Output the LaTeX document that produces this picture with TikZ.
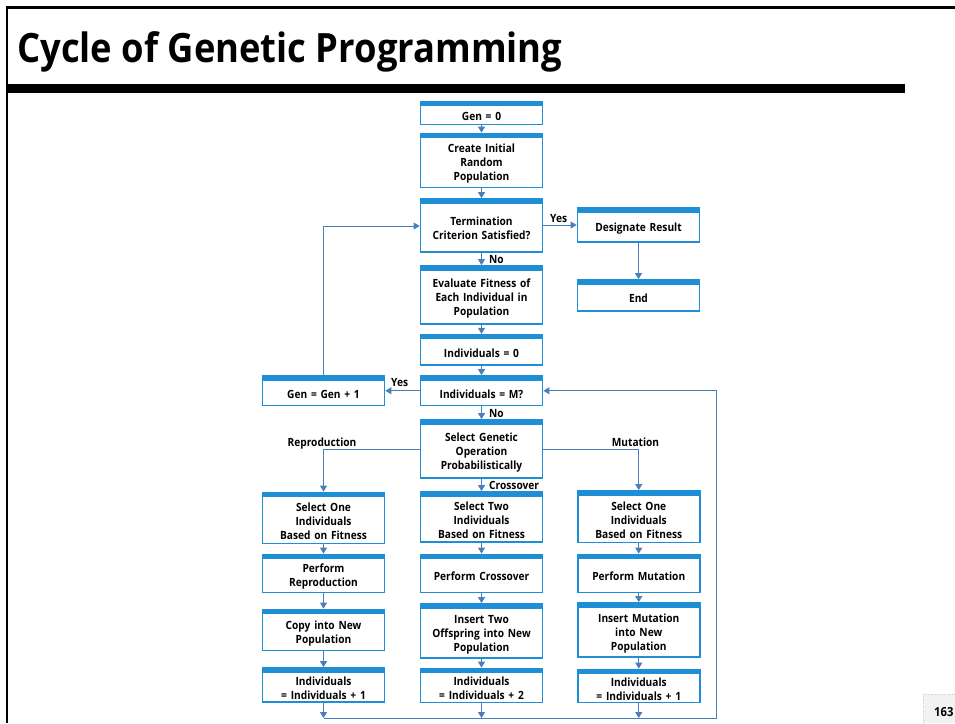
\documentclass[tikz,border=0pt]{standalone}
\usepackage{fontspec}
\setmainfont{Open Sans}[FakeStretch=0.9]
\usetikzlibrary{arrows.meta,calc}
\definecolor{boxblue}{HTML}{1E8FD5}
\definecolor{linkblue}{HTML}{4A7EBB}
\definecolor{pagegray}{HTML}{F2F2F2}
\tikzset{
  gpbox/.style={draw=boxblue, line width=1.8pt, fill=white, inner sep=1pt,
    minimum width=122pt, text width=118pt, align=center,
    font=\fontsize{11.3}{14}\selectfont\bfseries,
    execute at begin node={\rule{0pt}{15pt}},
    path picture={\fill[boxblue] (path picture bounding box.north west)
      rectangle ([yshift=-4.5pt]path picture bounding box.north east);}},
  link/.style={draw=linkblue, line width=1pt, -{Triangle[width=7pt,length=6pt]}},
  plain/.style={draw=linkblue, line width=1pt},
  lbl/.style={font=\fontsize{11.3}{13}\selectfont\bfseries, inner sep=0pt}
}
\begin{document}
\begin{tikzpicture}[x=1pt,y=-1pt]
\useasboundingbox (0,0) rectangle (955,723);
\fill[white] (0,0) rectangle (955,723);

% slide frame, title and rule
\draw[line width=2.2pt] (7,723) -- (7,7.5) -- (955,7.5);
\fill[black] (7,84) rectangle (905,92.5);
\node[anchor=base west, inner sep=0pt, font=\fontsize{40.4}{42}\selectfont\bfseries] (title) at (17,62) {Cycle of Genetic Programming};

% page number
\fill[pagegray] (923,694) rectangle (955,723);
\draw[gray!40, dotted] (923,723) -- (923,694) -- (955,694);
\node[anchor=base west, inner sep=0pt, font=\fontsize{12.5}{14}\selectfont\bfseries] (pnum) at (934,716) {163};

% main column
\node[gpbox, minimum height=23pt] (gen0) at (481.5,113) {Gen = 0};
\node[gpbox, minimum height=54pt] (create) at (481.5,160.5) {Create Initial\\Random\\Population};
\node[gpbox, minimum height=53pt] (term) at (481.5,225.5) {Termination\\Criterion Satisfied?};
\node[gpbox, minimum height=34pt] (result) at (638.5,225) {Designate Result};
\node[gpbox, minimum height=31pt] (end) at (638.5,295.5) {End};
\node[gpbox, minimum height=58pt] (eval) at (481.5,295) {Evaluate Fitness of\\Each Individual in\\Population};
\node[gpbox, minimum height=30pt] (ind0) at (481.5,349.75) {Individuals = 0};
\node[gpbox, minimum height=29.5pt] (indM) at (481.5,390.75) {Individuals = M?};
\node[gpbox, minimum height=29.5pt] (gennext) at (323.5,390.75) {Gen = Gen + 1};
\node[gpbox, minimum height=58pt] (select) at (481.5,449) {Select Genetic\\Operation\\Probabilistically};

% reproduction branch
\node[gpbox, minimum height=51pt] (l1) at (323.5,518) {Select One\\Individuals\\Based on Fitness};
\node[gpbox, minimum height=38pt] (l2) at (323.5,573.5) {Perform\\Reproduction};
\node[gpbox, minimum height=41pt] (l3) at (323.5,630) {Copy into New\\Population};
\node[gpbox, minimum height=34pt] (l4) at (323.5,685) {Individuals\\= Individuals + 1};

% crossover branch
\node[gpbox, minimum height=50pt] (m1) at (481.5,517) {Select Two\\Individuals\\Based on Fitness};
\node[gpbox, minimum height=38pt] (m2) at (481.5,573.5) {Perform Crossover};
\node[gpbox, minimum height=54pt] (m3) at (481.5,631) {Insert Two\\Offspring into New\\Population};
\node[gpbox, minimum height=34pt] (m4) at (481.5,685.5) {Individuals\\= Individuals + 2};

% mutation branch
\node[gpbox, minimum height=51.5pt] (r1) at (638.75,516.75) {Select One\\Individuals\\Based on Fitness};
\node[gpbox, minimum height=38pt] (r2) at (638.75,573.5) {Perform Mutation};
\node[gpbox, minimum height=54pt] (r3) at (638.75,630) {Insert Mutation\\into New\\Population};
\node[gpbox, minimum height=33pt] (r4) at (638.75,686) {Individuals\\= Individuals + 1};

% collecting line and loop-back points
\coordinate (joinL) at (323.5,718);
\coordinate (joinM) at (481.5,718);
\coordinate (joinR) at (638.75,718);
\coordinate (loopC) at (716.5,718);
\coordinate (loopT) at (716.5,390.75);
\coordinate (genUp) at (323.5,226);
\coordinate (repC) at (323.5,449);
\coordinate (mutC) at (638.75,449);

% connectors
\draw[link] (gen0) -- (create);
\draw[link] (create) -- (term);
\draw[link] (term.east |- result.west) -- (result.west);
\draw[link] (result) -- (end);
\draw[link] (term) -- (eval);
\draw[link] (eval) -- (ind0);
\draw[link] (ind0) -- (indM);
\draw[link] (indM) -- (gennext);
\draw[link] (gennext.north) -- (genUp) -- (term.west |- genUp);
\draw[link] (indM) -- (select);
\draw[link] (select.west |- repC) -- (repC) -- (l1.north);
\draw[link] (select.east |- mutC) -- (mutC) -- (r1.north);
\draw[link] (select) -- (m1);
\draw[link] (l1) -- (l2);
\draw[link] (l2) -- (l3);
\draw[link] (l3) -- (l4);
\draw[link] (m1) -- (m2);
\draw[link] (m2) -- (m3);
\draw[link] (m3) -- (m4);
\draw[link] (r1) -- (r2);
\draw[link] (r2) -- (r3);
\draw[link] (r3) -- (r4);
\draw[link] (l4) -- (joinL);
\draw[link] (m4) -- (joinM);
\draw[link] (r4) -- (joinR);
\draw[plain] (joinL) -- (loopC);
\draw[link] (loopC) -- (loopT) -- (indM.east);

% branch labels
\node[lbl, anchor=base west] (yes1) at (550,222) {Yes};
\node[lbl, anchor=base west] (no1) at (489,263) {No};
\node[lbl, anchor=base west] (yes2) at (391,386) {Yes};
\node[lbl, anchor=base west] (no2) at (489,417) {No};
\node[lbl, anchor=base] (rep) at (322,446) {Reproduction};
\node[lbl, anchor=base] (mut) at (635.5,446) {Mutation};
\node[lbl, anchor=base west] (cross) at (489,489) {Crossover};
\end{tikzpicture}
\end{document}
